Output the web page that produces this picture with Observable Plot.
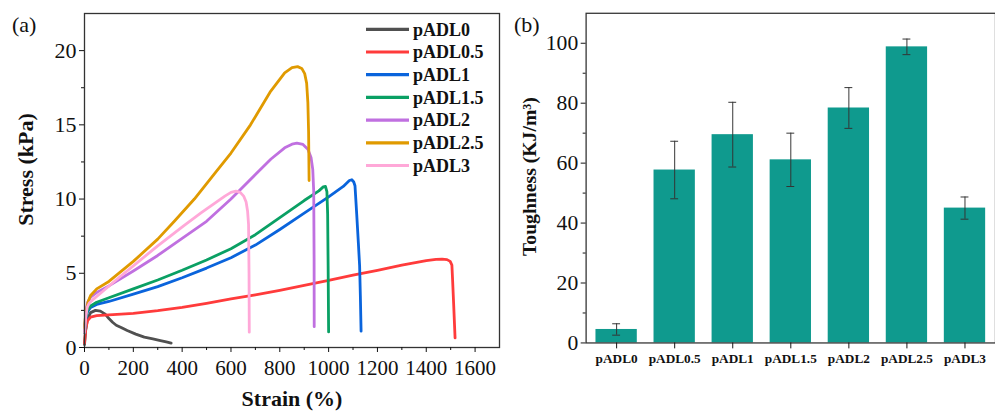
<!DOCTYPE html>
<html><head><meta charset="utf-8">
<script src="https://cdn.jsdelivr.net/npm/d3@7"></script>
<script src="https://cdn.jsdelivr.net/npm/@observablehq/plot@0.6"></script>
<style>
body{margin:0;background:#fff;overflow:hidden}
#wrap{position:relative;width:995px;height:412px;overflow:hidden;background:#fff}
#left{position:absolute;left:0;top:0}
#right{position:absolute;left:500px;top:0}
#overlay{position:absolute;left:0;top:0;pointer-events:none}
</style></head><body>
<div id="wrap"><div id="right"></div><div id="left"></div><svg id="overlay"></svg></div>
<script>
const serif = "Liberation Serif, Times New Roman, Tinos, Times, serif";
const seriesNames = ["pADL0","pADL0.5","pADL1","pADL1.5","pADL2","pADL2.5","pADL3"];
const seriesColors = ["#505050","#ff3b3b","#0a64dc","#0aa064","#c070e0","#e09a00","#ffa8d8"];

// (a) stress-strain curves
const strain0 = [0,5,12,25,45,65,85,100,115,130,150,175,210,245,280,311,335,355];
const stress0 = [0.2,1.2,1.9,2.35,2.5,2.45,2.25,1.95,1.7,1.5,1.35,1.14,0.9,0.7,0.58,0.47,0.38,0.3];
const strain05 = [0,5,12,25,50,100,200,300,400,500,600,700,800,900,1000,1100,1200,1300,1400,1440,1465,1485,1498,1505,1508,1512,1518];
const stress05 = [0.3,1.2,1.8,2.05,2.15,2.2,2.3,2.48,2.7,2.98,3.28,3.55,3.85,4.18,4.52,4.88,5.2,5.55,5.85,5.93,5.95,5.92,5.8,5.55,4.5,3.0,0.65];
const strain1 = [0,5,12,25,50,100,200,300,400,500,600,700,800,900,1000,1060,1085,1095,1103,1108,1115,1122,1127,1130,1133];
const stress1 = [1.0,1.9,2.4,2.7,2.9,3.1,3.6,4.1,4.7,5.35,6.05,6.9,7.95,9.05,10.15,10.85,11.25,11.3,11.15,10.9,9.0,7.0,5.5,3.5,1.1];
const strain15 = [0,5,12,25,50,100,200,300,400,500,600,700,800,900,960,978,987,993,996,998,1000];
const stress15 = [1.0,2.0,2.5,2.8,3.05,3.35,3.95,4.55,5.2,5.9,6.65,7.6,8.75,9.9,10.55,10.82,10.85,10.5,9.0,5.5,1.05];
const strain2 = [0,5,12,25,52,100,200,300,400,500,600,700,764,820,850,870,895,915,928,935,939,940.5,941];
const stress2 = [1.2,2.3,3.0,3.4,3.73,4.15,5.15,6.2,7.35,8.5,10.0,11.65,12.7,13.45,13.7,13.76,13.68,13.35,12.8,12.0,10.5,6.0,1.4];
const strain25 = [0,5,15,25,50,100,200,300,368,450,532,600,680,760,820,850,873,890,902,910,915,918,920];
const stress25 = [1.3,2.3,3.1,3.5,3.95,4.45,5.8,7.3,8.5,10.0,11.7,13.1,15.0,17.2,18.5,18.85,18.92,18.8,18.45,17.8,16.5,14.5,11.25];
const strain3 = [0,5,11,20,38,79,140,200,300,406,480,540,575,600,620,638,652,662,668,672,674,675];
const stress3 = [1.0,2.0,2.7,3.0,3.28,3.84,4.7,5.5,6.85,8.2,9.1,9.8,10.2,10.45,10.53,10.45,10.2,9.8,9.2,8.3,5.0,1.03];

const strainTicks = [0,200,400,600,800,1000,1200,1400,1600];
const strainMinorTicks = [100,300,500,700,900,1100,1300,1500];
const stressTicks = [0,5,10,15,20];
const stressMinorTicks = [2.5,7.5,12.5,17.5];

// (b) toughness bars
const barCategories = ["pADL0","pADL0.5","pADL1","pADL1.5","pADL2","pADL2.5","pADL3"];
const toughness = [4.5,57.7,69.5,61.1,78.4,98.8,45.0];
const toughnessErr = [1.9,9.6,10.8,8.9,6.8,2.6,3.7];
const toughTicks = [0,20,40,60,80,100];
const toughMinorTicks = [10,30,50,70,90];

const pairs = [[strain0,stress0],[strain05,stress05],[strain1,stress1],[strain15,stress15],[strain2,stress2],[strain25,stress25],[strain3,stress3]];
const curves = [];
pairs.forEach(([xs,ys],i)=>xs.forEach((x,j)=>curves.push({series:seriesNames[i],strain:x,stress:ys[j]})));
const plain = d => String(d);

const left = Plot.plot({
  width:500, height:412,
  marginLeft:84, marginRight:1, marginTop:13, marginBottom:65,
  style:{fontFamily:serif, background:"transparent", color:"#111", overflow:"visible"},
  x:{domain:[0,1700]},
  y:{domain:[0,22.5]},
  color:{domain:seriesNames, range:seriesColors},
  marks:[
    Plot.line(curves,{x:"strain",y:"stress",z:"series",stroke:"series",strokeWidth:2.8,strokeLinejoin:"round",curve:"linear"}),
    Plot.frame({stroke:"#333",strokeWidth:1.3}),
    Plot.axisX(strainTicks,{tickSize:5,tickPadding:8,fontSize:21,tickFormat:plain,label:null}),
    Plot.axisX(strainMinorTicks,{tickSize:3,tickFormat:()=>"",label:null}),
    Plot.axisY(stressTicks,{tickSize:5,tickPadding:3,fontSize:22,tickFormat:plain,label:null}),
    Plot.axisY(stressMinorTicks,{tickSize:3,tickFormat:()=>"",label:null}),
    Plot.text(["Strain (%)"],{text:d=>d,frameAnchor:"bottom",lineAnchor:"middle",textAnchor:"middle",dy:51,fontSize:22,fontWeight:"bold"}),
    Plot.text(["Stress (kPa)"],{text:d=>d,frameAnchor:"left",lineAnchor:"middle",textAnchor:"middle",rotate:-90,dx:-59,dy:-11,fontSize:22,fontWeight:"bold"})
  ]
});
document.getElementById("left").appendChild(left);

const bars = barCategories.map((c,i)=>({cat:c,value:toughness[i],lo:toughness[i]-toughnessErr[i],hi:toughness[i]+toughnessErr[i]}));
const right = Plot.plot({
  width:503, height:412,
  marginLeft:87, marginRight:0, marginTop:13, marginBottom:64,
  style:{fontFamily:serif, background:"transparent", color:"#111", overflow:"visible"},
  x:{type:"band",domain:barCategories,paddingInner:0.29,paddingOuter:0.145},
  y:{domain:[0,110]},
  marks:[
    Plot.barY(bars,{x:"cat",y:"value",fill:"#0f9a8e"}),
    Plot.ruleX(bars,{x:"cat",y1:"lo",y2:"hi",stroke:"#333",strokeWidth:1}),
    Plot.tickY(bars,{x:"cat",y:"lo",insetLeft:17,insetRight:17,stroke:"#333",strokeWidth:1}),
    Plot.tickY(bars,{x:"cat",y:"hi",insetLeft:17,insetRight:17,stroke:"#333",strokeWidth:1}),
    Plot.frame({stroke:"#333",strokeWidth:1.3}),
    Plot.axisX({tickSize:6,tickPadding:5,fontSize:13.5,fontWeight:"bold",label:null}),
    Plot.axisY(toughTicks,{tickSize:5,tickPadding:3,fontSize:22,tickFormat:plain,label:null}),
    Plot.axisY(toughMinorTicks,{tickSize:3,tickFormat:()=>"",label:null}),
    Plot.text(["Toughness (KJ/m\u00B3)"],{text:d=>d,frameAnchor:"left",lineAnchor:"middle",textAnchor:"middle",rotate:-90,dx:-57,dy:-1.5,fontSize:20,fontWeight:"bold"})
  ]
});
document.getElementById("right").appendChild(right);

// legend and panel labels
const ov = d3.select("#overlay").attr("width",995).attr("height",412);
seriesNames.forEach((n,i)=>{
  const y = 29.3 + i*22.7;
  ov.append("line").attr("x1",366).attr("x2",409).attr("y1",y).attr("y2",y)
    .attr("stroke",seriesColors[i]).attr("stroke-width",3.2);
  ov.append("text").attr("x",413).attr("y",y).attr("dy","0.35em").text(n)
    .style("font-family",serif).attr("font-size",18).attr("font-weight","bold").attr("fill","#111");
});
ov.append("text").attr("x",12).attr("y",32).text("(a)").style("font-family",serif).attr("font-size",22).attr("fill","#111");
ov.append("text").attr("x",514).attr("y",32).text("(b)").style("font-family",serif).attr("font-size",22).attr("fill","#111");
</script>
</body></html>
